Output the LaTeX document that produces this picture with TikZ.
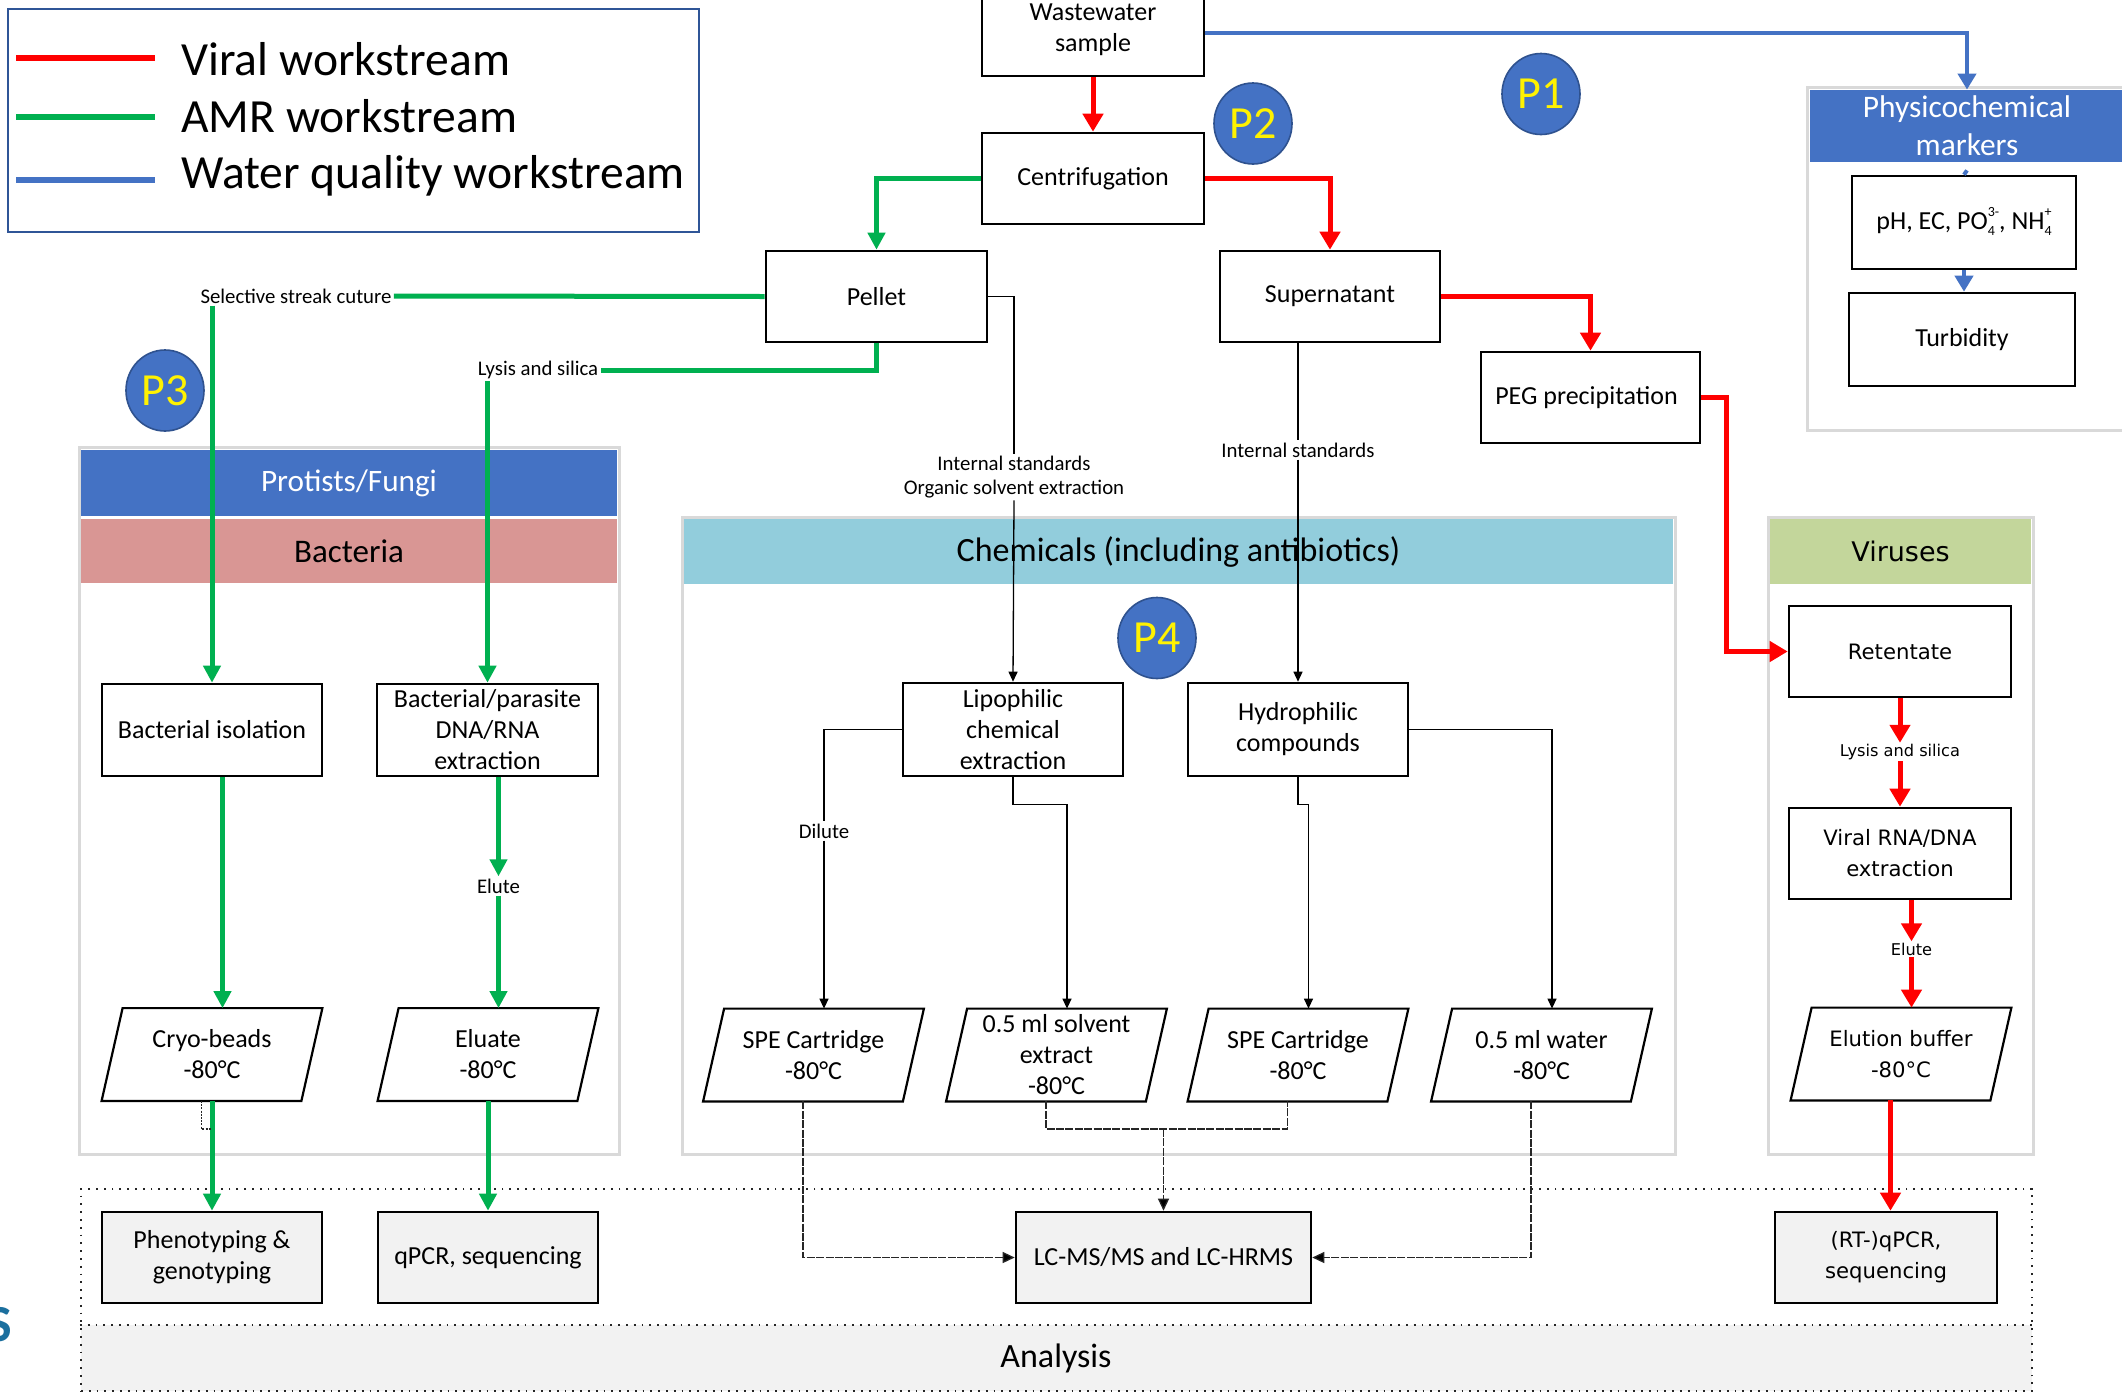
\documentclass[tikz,border=0pt]{standalone}
\usepackage{fontspec}
\setmainfont{Carlito}
\newfontfamily\vfont{DejaVu Sans}
\usetikzlibrary{arrows.meta,shapes.geometric,calc}
\definecolor{cred}{HTML}{FF0000}
\definecolor{cgreen}{HTML}{00B050}
\definecolor{cblue}{HTML}{4472C4}
\definecolor{cbluedark}{HTML}{2F528F}
\definecolor{cpink}{HTML}{D99694}
\definecolor{cchem}{HTML}{92CDDC}
\definecolor{cvir}{HTML}{C3D69B}
\definecolor{cgroup}{HTML}{D9D9D9}
\definecolor{cana}{HTML}{F2F2F2}
\definecolor{clegend}{HTML}{2F5597}
\definecolor{cfrag}{HTML}{1B6F9E}
\newcommand\fsz[2]{\fontsize{#1pt}{#2pt}\selectfont}
\newcommand\subsupx[2]{\raisebox{-3.2pt}{\fsz{7}{9.5}\begin{tabular}[b]{@{}l@{}}#2\\#1\end{tabular}}}
\begin{document}
\begin{tikzpicture}[x=0.5pt,y=-0.5pt,
  box/.style={draw, line width=1.3pt, minimum width=110pt, minimum height=46pt, inner sep=1pt, align=center, font=\fsz{13}{15.5}, fill=white},
  abox/.style={box, fill=cana},
  vbox/.style={box, font=\vfont\fsz{10.6}{15.5}},
  vabox/.style={vbox, fill=cana},
  para/.style={minimum width=110pt, minimum height=46pt, inner sep=0pt, align=center, font=\fsz{13}{15.5}},
  vpara/.style={para, font=\vfont\fsz{10.6}{15.5}},
  lbl/.style={inner sep=1pt, align=center, font=\fsz{10.4}{12}},
  vlbl/.style={inner sep=0.5pt, font=\vfont\fsz{8.1}{10}},
  grp/.style={draw=cgroup, line width=1.5pt, inner sep=0pt},
  hdr/.style={inner sep=0pt, align=center},
  pcirc/.style={ellipse, draw=cbluedark, line width=0.8pt, fill=cblue, text=yellow, font=\fsz{23}{23}, minimum width=39pt, minimum height=40.5pt, inner sep=0pt},
  redl/.style={draw=cred, line width=2.5pt},
  redarr/.style={redl, -{Triangle[length=9pt,width=10pt]}},
  greenl/.style={draw=cgreen, line width=2.5pt},
  greenarr/.style={greenl, -{Triangle[length=8.5pt,width=8.5pt]}},
  bluel/.style={draw=cblue, line width=2pt},
  bluearr/.style={bluel, -{Triangle[length=8pt,width=9pt]}},
  thinl/.style={line width=0.65pt, draw=black},
  thinarr/.style={thinl, -{Triangle[length=5pt,width=4.5pt]}},
  dotl/.style={line width=0.65pt, draw=black!85, dash pattern=on 4pt off 0.7pt},
  dotarr/.style={dotl, -{Triangle[length=6pt,width=5.5pt,fill=black]}},
  anadots/.style={line width=1.1pt, draw=black!85, dash pattern=on 0.9pt off 3pt}
]
\fill[white] (0,0) rectangle (2122,1393);
\useasboundingbox (0,0) rectangle (2122,1393);

% ---------- groups ----------
\node[grp, minimum width=270pt, minimum height=353.5pt] (protgrp) at (349,800.5) {};
\node[hdr, fill=cblue, text=white, minimum width=268pt, minimum height=33pt, font=\fsz{15.6}{19}] (prothdr) at (349,483) {Protists/Fungi};
\node[hdr, fill=cpink, minimum width=268pt, minimum height=32pt, font=\fsz{16.5}{19}] (bachdr) at (349,551) {Bacteria};
\node[grp, minimum width=496.5pt, minimum height=318.5pt] (chemgrp) at (1178.5,835.5) {};
\node[hdr, fill=cchem, minimum width=494.5pt, minimum height=32.5pt, font=\fsz{17}{20}] (chemhdr) at (1178.5,551.5) {Chemicals (including antibiotics)};
\node[grp, minimum width=132.5pt, minimum height=318.5pt] (virgrp) at (1900.5,835.5) {};
\node[hdr, fill=cvir, minimum width=130.5pt, minimum height=32.5pt, font=\vfont\fsz{13.5}{16}] (virhdr) at (1900.5,551.5) {Viruses};
\node[grp, minimum width=164pt, minimum height=171.5pt] (physgrp) at (1971,258.5) {};
\node[hdr, fill=cblue, text=white, minimum width=157pt, minimum height=36pt, font=\fsz{15.7}{19}] (physhdr) at (1967,126) {Physicochemical\\markers};

% ---------- analysis region ----------
\coordinate (anamid) at (0,1325);
\fill[cana] (81,1325) rectangle (2032,1391);
\node[anadots, minimum width=975.5pt, minimum height=101pt, inner sep=0pt] (anareg) at (1056.5,1290) {};
\draw[anadots] (anareg.west |- anamid) -- (anareg.east |- anamid);
\node[font=\fsz{17}{20}] (analysis) at (1056,1358) {Analysis};

% ---------- legend ----------
\node[draw=clegend, line width=1pt, minimum width=345.5pt, minimum height=111.5pt, inner sep=0pt] (legend) at (353,120) {};
\draw[draw=cred, line width=3pt] (16,58) -- (155,58);
\draw[draw=cgreen, line width=3pt] (16,117) -- (155,117);
\draw[draw=cblue, line width=3pt] (16,180) -- (155,180);
\node[anchor=base west, inner sep=0pt, font=\fsz{23.8}{28}] (lg1) at (181,75) {Viral workstream};
\node[anchor=base west, inner sep=0pt, font=\fsz{23.8}{28}] (lg2) at (181,132) {AMR workstream};
\node[anchor=base west, inner sep=0pt, font=\fsz{23.8}{28}] (lg3) at (181,188) {Water quality workstream};

% ---------- P circles ----------
\node[pcirc] (p1) at (1541,94) {P1};
\node[pcirc] (p2) at (1253,123.5) {P2};
\node[pcirc] (p3) at (165,390.5) {P3};
\node[pcirc] (p4) at (1157,638) {P4};

% ---------- top boxes ----------
\node[box, minimum width=111pt] (ww) at (1093,30) {Wastewater\\sample};
\node[box, minimum width=111pt, minimum height=45.5pt] (centri) at (1093,178.5) {Centrifugation};
\node[box, minimum width=110.5pt, minimum height=45.5pt] (pellet) at (876.5,296.5) {Pellet};
\node[box, minimum height=45.5pt] (super) at (1330,296.5) {Supernatant};
\node[box, minimum width=109.5pt, minimum height=45.5pt] (peg) at (1590.5,397.5) {PEG precipitation\hspace*{4pt}};
\node[box, minimum width=112pt, minimum height=46.5pt] (ph) at (1964,222.5) {pH, EC, PO\subsupx{4}{3-}, NH\subsupx{4}{+}};
\node[box, minimum width=113pt, minimum height=46.5pt] (turb) at (1962,339.5) {Turbidity};

% ---------- bacteria ----------
\node[box] (biso) at (212,730) {Bacterial isolation};
\node[box, minimum width=110.5pt] (bpe) at (487.5,730) {Bacterial/parasite\\DNA/RNA\\extraction};
\node[para] (cryo) at (212,1054.5) {Cryo-beads\\-80°C};
\node[para] (eluate) at (488,1054.5) {Eluate\\-80°C};
\node[abox, minimum height=45.5pt] (pheno) at (212,1257.5) {Phenotyping \&\\genotyping};
\node[abox, minimum height=45.5pt] (qpcr) at (488,1257.5) {qPCR, sequencing};

% ---------- chemicals ----------
\node[box, minimum height=46.5pt] (lipo) at (1013,729.5) {Lipophilic\\chemical\\extraction};
\node[box, minimum height=46.5pt] (hydro) at (1298,729.5) {Hydrophilic\\compounds};
\node[para] (spe1) at (813.5,1055) {SPE Cartridge\\-80°C};
\node[para] (solv) at (1056.5,1055) {0.5 ml solvent\\extract\\-80°C};
\node[para] (spe2) at (1298,1055) {SPE Cartridge\\-80°C};
\node[para] (water) at (1541.5,1055) {0.5 ml water\\-80°C};
\node[abox, minimum width=147.5pt, minimum height=45.5pt] (lcms) at (1163.5,1257.5) {LC-MS/MS and LC-HRMS};

% ---------- viruses ----------
\node[vbox, minimum width=111pt, minimum height=45.5pt] (ret) at (1900,651.5) {Retentate};
\node[vbox, minimum width=111pt, minimum height=45.5pt] (vrna) at (1900,853.5) {Viral RNA/DNA\\extraction};
\node[vpara] (elbuf) at (1901,1054) {Elution buffer\\-80°C};
\node[vabox, minimum width=111pt, minimum height=45.5pt] (rtq) at (1886,1257.5) {(RT-)qPCR,\\sequencing};

% ---------- parallelogram outlines ----------
\foreach \n in {cryo,eluate,spe1,solv,spe2,water,elbuf}{
  \draw[line width=1.1pt] (\n.south west) -- ([xshift=-10.5pt]\n.south east) -- (\n.north east) -- ([xshift=10.5pt]\n.north west) -- cycle;
  \coordinate (\n-t) at ([xshift=5.25pt]\n.north);
  \coordinate (\n-b) at ([xshift=-5.25pt]\n.south);
}

% ---------- labels ----------
\node[lbl] (ssc) at (296,296) {Selective streak cuture};
\node[lbl] (lys) at (538,370) {Lysis and silica};
\node[lbl] (gel) at (498.5,886) {Elute};
\node[lbl] (isl) at (1014,477) {Internal standards\\Organic solvent extraction};
\node[lbl] (is2) at (1298,450) {Internal standards};
\node[lbl] (dil) at (824,831) {Dilute};
\node[vlbl] (vlys) at (1900,752) {Lysis and silica};
\node[vlbl] (vel) at (1911.5,949) {Elute};

% ---------- cropped fragment at left edge ----------
\node[anchor=east, inner sep=0pt, text=cfrag, font=\bfseries\fsz{26}{26}] (frag) at (12,1325) {S};

% ---------- blue workstream ----------
\draw[bluearr] ([yshift=-1.5pt]ww.east) -| (physhdr.north);
\draw[bluel] ([yshift=-4pt]physhdr.south) -- (ph.north);
\draw[bluearr] (ph.south) -- (ph.south |- turb.north);

% ---------- red workstream ----------
\draw[redarr] (ww.south) -- (centri.north);
\draw[redarr] (centri.east) -| (super.north);
\draw[redarr] (super.east) -| (peg.north);
\draw[redarr] (peg.east) -- ++(25,0) |- (ret.west);
\draw[redarr] (ret.south) -- (vlys.north);
\draw[redarr] (vlys.south) -- (vrna.north);
\draw[redarr] (vrna.south -| vel) -- (vel.north);
\draw[redarr] (vel.south) -- (elbuf-t);
\draw[redarr] (elbuf-b) -- (elbuf-b |- rtq.north);

% ---------- green workstream ----------
\draw[greenarr] (centri.west) -| (pellet.north);
\draw[greenl] (pellet.west) -- (ssc.east);
\draw[greenarr] (ssc.south -| biso.north) -- (biso.north);
\draw[greenl] (pellet.south) |- (lys.east);
\draw[greenarr] (lys.south -| bpe.north) -- (bpe.north);
\draw[greenarr] (biso.south -| cryo-t) -- (cryo-t);
\draw[greenarr] (bpe.south -| gel) -- (gel.north);
\draw[greenarr] (gel.south) -- (eluate-t);
\draw[greenarr] (cryo.south) -- (pheno.north);
\draw[greenarr] (eluate.south) -- (qpcr.north);
\draw[dotl, dash pattern=on 1pt off 0.6pt] (cryo-b) -- ++(0,28) -- ++(10,0);

% ---------- chemical (black) ----------
\draw[thinl] (pellet.east) -| (isl.north);
\draw[thinarr] (isl.south) -- (lipo.north);
\draw[line width=1.3pt] (super.south -| is2) -- (is2.north);
\draw[thinarr] (is2.south) -- (hydro.north -| is2);
\draw[thinl] (lipo.west) -| (dil.north);
\draw[thinarr] (dil.south) -- (spe1-t);
\draw[thinarr] (lipo.south) -- ++(0,27) -| (solv-t);
\draw[thinarr] (hydro.south) -- ++(0,27) -| (spe2-t);
\draw[thinarr] (hydro.east) -| (water-t);

% ---------- to LC-MS ----------
\coordinate (djy) at (0,1129);
\coordinate (dj) at (lcms.north |- djy);
\draw[dotarr] (spe1-b) |- (lcms.west);
\draw[dotl] (solv-b) |- (dj) -| (spe2-b);
\draw[dotarr] (dj) -- (lcms.north);
\draw[dotarr] (water-b) |- (lcms.east);
\end{tikzpicture}
\end{document}
